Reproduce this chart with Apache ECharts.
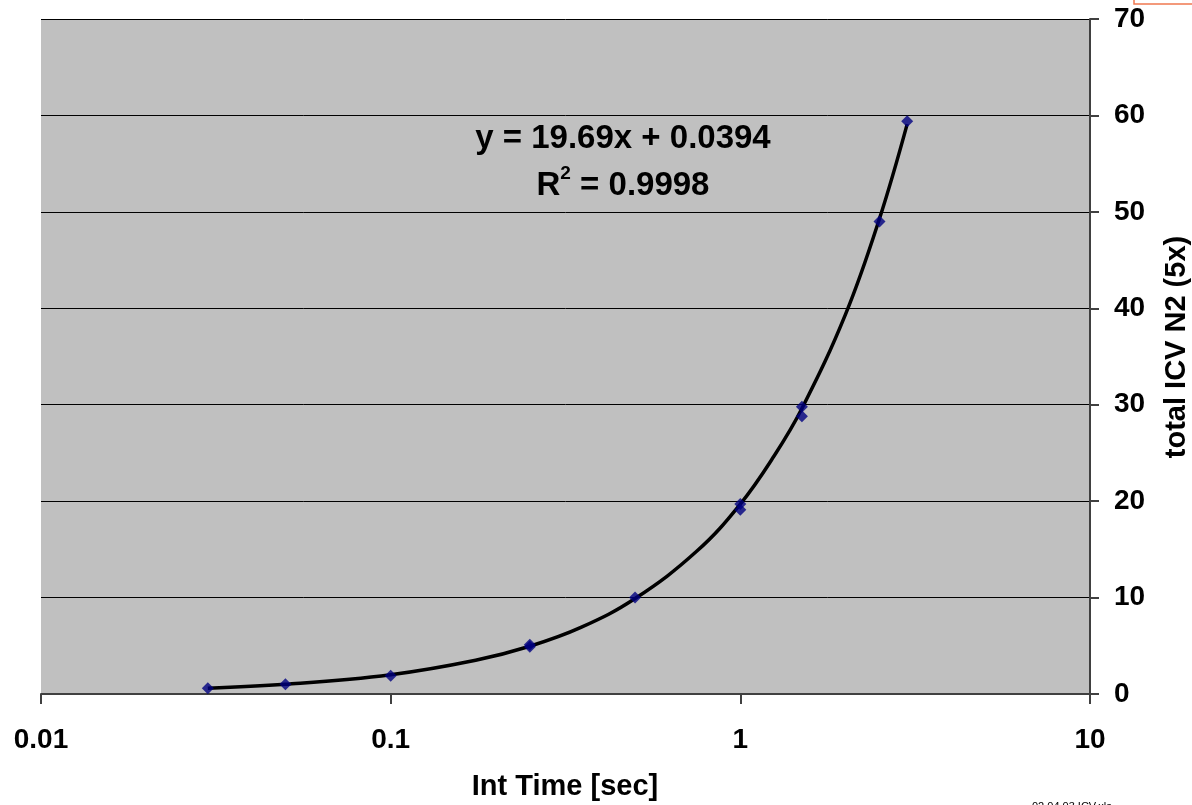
<!DOCTYPE html>
<html>
<head>
<meta charset="utf-8">
<script src="https://cdn.jsdelivr.net/npm/echarts@6/dist/echarts.min.js"></script>
<style>html,body{margin:0;padding:0;background:#fff}#c{width:1192px;height:805px}</style>
</head>
<body>
<div id="c"></div>
<script>
// Measured data points (Int Time [sec], total ICV N2)
const intTime = [0.03, 0.05, 0.1, 0.25, 0.25, 0.5, 1, 1, 1.5, 1.5, 2.5, 3];
const icvN2   = [0.6, 1.0, 1.9, 4.9, 5.1, 10.0, 19.7, 19.1, 29.8, 28.8, 49.0, 59.4];
// Trend line
const trendX = [0.03, 0.05, 0.1, 0.175, 0.25, 0.35, 0.5, 0.75, 1, 1.25, 1.5, 2, 2.5, 3];
const trendY = [0.6, 1.0, 2.0, 3.5, 4.95, 6.9, 9.9, 14.8, 19.7, 24.7, 29.6, 39.4, 49.3, 59.1];
const xTicks = [0.01, 0.1, 1, 10];
const yTicks = [0, 10, 20, 30, 40, 50, 60, 70];
const equationLine1 = 'y = 19.69x + 0.0394';
const equationLine2 = 'R{sup|2} = 0.9998';
const xName = 'Int Time [sec]';
const yName = 'total ICV N2 (5x)';
const footnote = '02.04.03 ICV.xls';

const font = 'Arial, "Liberation Sans", sans-serif';
const chart = echarts.init(document.getElementById('c'), null, {renderer: 'canvas'});
chart.setOption({
  animation: false,
  backgroundColor: '#ffffff',
  grid: {left: 41, right: 102, top: 19, bottom: 111, show: true, backgroundColor: '#c0c0c0', borderWidth: 0},
  xAxis: {
    type: 'log', logBase: 10, min: xTicks[0], max: xTicks[xTicks.length - 1],
    axisLine: {show: true, lineStyle: {color: '#404040', width: 2}},
    axisTick: {show: true, inside: false, length: 10, lineStyle: {color: '#404040', width: 2}},
    minorTick: {show: false},
    splitLine: {show: false},
    axisLabel: {margin: 32, fontFamily: font, fontWeight: 'bold', fontSize: 28, color: '#000',
      formatter: v => { const t = xTicks.find(k => Math.abs(k - v) / k < 1e-6); return t === undefined ? '' : String(t); }}
  },
  yAxis: {
    type: 'value', position: 'right', min: yTicks[0], max: yTicks[yTicks.length - 1], interval: 10,
    axisLine: {show: true, lineStyle: {color: '#404040', width: 2}},
    axisTick: {show: true, inside: false, length: 9, lineStyle: {color: '#404040', width: 2}},
    splitLine: {show: true, lineStyle: {color: '#000', width: 1}},
    axisLabel: {margin: 24, fontFamily: font, fontWeight: 'bold', fontSize: 28, color: '#000'}
  },
  series: [
    {
      type: 'line', data: trendX.map((x, i) => [x, trendY[i]]),
      smooth: 0.4, showSymbol: false, symbol: 'none',
      lineStyle: {color: '#000', width: 3.5}, z: 2
    },
    {
      type: 'scatter', data: intTime.map((x, i) => [x, icvN2[i]]),
      symbol: 'diamond', symbolSize: 12,
      itemStyle: {color: '#000080'}, z: 3
    }
  ],
  graphic: [
    {type: 'text', x: 623, y: 139, z: 10,
      style: {text: equationLine1, align: 'center', verticalAlign: 'middle',
        fontFamily: font, fontWeight: 'bold', fontSize: 33, fill: '#000'}},
    {type: 'text', x: 623, y: 186, z: 10,
      style: {text: equationLine2, align: 'center', verticalAlign: 'middle',
        fontFamily: font, fontWeight: 'bold', fontSize: 33, fill: '#000',
        rich: {sup: {fontFamily: font, fontWeight: 'bold', fontSize: 19, padding: [0, 0, 24, 0]}}}},
    {type: 'text', x: 565, y: 787, z: 10,
      style: {text: xName, align: 'center', verticalAlign: 'middle',
        fontFamily: font, fontWeight: 'bold', fontSize: 29, fill: '#000'}},
    {type: 'text', x: 1177, y: 347, rotation: Math.PI / 2, z: 10,
      style: {text: yName, align: 'center', verticalAlign: 'middle',
        fontFamily: font, fontWeight: 'bold', fontSize: 29, fill: '#000'}},
    {type: 'rect', shape: {x: 1134, y: -20, width: 80, height: 24}, style: {fill: 'none', stroke: '#f07850', lineWidth: 1.5}, z: 10},
    {type: 'text', x: 1032, y: 801, style: {text: footnote, fontFamily: font, fontSize: 11, fill: '#000'}, z: 10}
  ]
});
</script>
</body>
</html>
